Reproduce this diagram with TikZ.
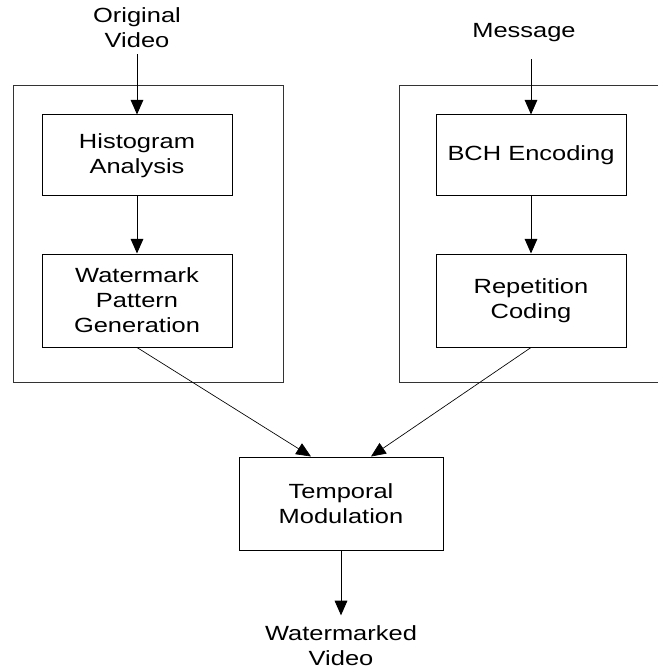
\documentclass[tikz,border=0pt]{standalone}
\usepackage{fontspec}
\setmainfont{Liberation Sans}[FakeStretch=1.24]
\usetikzlibrary{arrows.meta}

\tikzset{
  blk/.style={draw, line width=0.75pt, align=center, inner sep=0pt,
    minimum width=142.5pt, font=\fontsize{15.4}{18.75}\selectfont},
  lbl/.style={align=center, inner sep=0.75pt, font=\fontsize{15.4}{18.75}\selectfont},
  flow/.style={-{Triangle[length=11pt,width=9.5pt]}, line width=0.75pt},
  frame/.style={line width=0.75pt, color=black!80}
}

\begin{document}
\begin{tikzpicture}[x=0.75pt,y=0.75pt,yscale=-1,xscale=1]
\useasboundingbox (0,0) rectangle (657,670);

%Frames
\draw [frame] (13,86) rectangle (283,382);
\draw [frame] (399,86) rectangle (680,382);

% Text Node
\draw (137,27.5) node [lbl] (orig) {Original\\Video};
% Text Node
\draw (524,33) node [lbl] (msg) {Message};
% Text Node
\draw (341,646) node [lbl] (out) {Watermarked\\Video};

% Blocks
\draw (137,155.5) node [blk, minimum height=60.75pt] (hist) {Histogram\\Analysis};
\draw (137,300.5) node [blk, minimum height=69.75pt] (wmp) {Watermark\\Pattern\\Generation};
\draw (531,155.5) node [blk, minimum height=60.75pt] (bch) {BCH Encoding};
\draw (531,300.5) node [blk, minimum height=69.75pt] (rep) {Repetition\\Coding};
\draw (341,503.5) node [blk, minimum width=153pt, minimum height=69.75pt] (tmod) {Temporal\\Modulation};

% Arrows
\draw [flow] ([yshift=4pt]orig.south) -- (hist.north);
\draw [flow] ([yshift=12pt]msg.south -| bch.north) -- (bch.north);
\draw [flow] (hist.south) -- (wmp.north);
\draw [flow] (bch.south) -- (rep.north);
\draw [flow, line width=0.5pt] (wmp.south) -- ([xshift=-22.5pt]tmod.north);
\draw [flow, line width=0.5pt] (rep.south) -- ([xshift=22.5pt]tmod.north);
\draw [flow] (tmod.south) -- ([yshift=-7pt]out.north);

\end{tikzpicture}
\end{document}
